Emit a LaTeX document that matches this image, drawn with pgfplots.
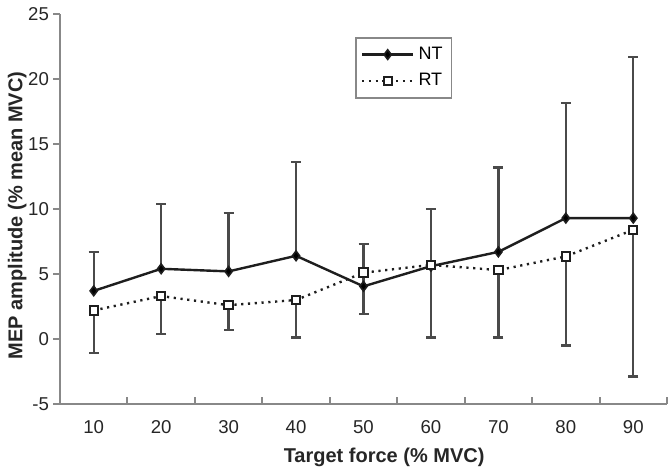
\documentclass[border=0pt]{standalone}
\usepackage{pgfplots}
\pgfplotsset{compat=1.18}
\usepackage{fontspec}
\setmainfont{Liberation Sans}
\definecolor{axgray}{HTML}{888888}
\definecolor{ebgray}{HTML}{4A4A4A}
\definecolor{ln}{HTML}{1E1E1E}
\begin{document}
\begin{tikzpicture}
\path[use as bounding box] (-30pt,-33pt) rectangle (304.5pt,202pt);
\begin{axis}[
  at={(0,0)}, anchor=south west,
  scale only axis, width=303.5pt, height=195pt,
  xmin=5, xmax=95, ymin=-5, ymax=25,
  axis x line*=bottom, axis y line*=left,
  axis line style={draw=axgray, line width=1.1pt},
  xtick={10,20,...,90},
  minor xtick={5,15,...,95},
  ytick={-5,0,...,25},
  tick align=inside,
  major tick length=3.5pt, minor tick length=3.5pt,
  every major x tick/.append style={draw=none},
  every minor x tick/.append style={draw=axgray, line width=1pt},
  every major y tick/.append style={xshift=-3.5pt, draw=axgray, line width=1pt},
  /pgf/number format/assume math mode=true,
  ticklabel style={font=\fontsize{9.3}{11}\selectfont, text=black!85},
  yticklabel style={xshift=-2pt},
  xticklabel style={yshift=-4.5pt},
  every axis y label/.style={at={(axis description cs:-0.0705,0.483)}, rotate=90, anchor=center},
  every axis x label/.style={at={(axis description cs:0.534,-0.137)}, anchor=center},
  label style={font=\bfseries\fontsize{10}{12}\selectfont, text=black!85},
  xlabel={Target force (\% MVC)},
  ylabel={MEP amplitude (\% mean MVC)},
  legend style={at={(0.486,0.941)}, anchor=north west, draw=axgray, line width=0.9pt,
    font=\fontsize{9}{10}\selectfont, inner sep=2.5pt, row sep=1.5pt},
  legend cell align=left,
  legend image code/.code={\draw[mark repeat=2,mark phase=2,#1] plot coordinates {(0cm,0cm) (0.45cm,0cm) (0.9cm,0cm)};},
  clip=false,
]
\addplot[color=ln, line width=1.2pt, mark=diamond*, mark size=2.4pt,
  mark options={solid, fill=black, line width=0.8pt},
  error bars/.cd, y dir=plus, y explicit,
  error bar style={draw=ebgray, line width=1.2pt, solid},
  error mark options={rotate=90, mark size=2.5pt, draw=ebgray, line width=1.2pt}]
coordinates {
 (10,3.7) +- (0,3.0)
 (20,5.4) +- (0,5.0)
 (30,5.2) +- (0,4.5)
 (40,6.4) +- (0,7.2)
 (50,4.05) +- (0,3.25)
 (60,5.6) +- (0,4.4)
 (70,6.7) +- (0,6.5)
 (80,9.3) +- (0,8.85)
 (90,9.3) +- (0,12.4)
};
\addlegendentry{NT}
\addplot[color=ln, line width=1.2pt, dash pattern=on 1.1pt off 2.3pt, mark=square*, mark size=2.1pt,
  mark options={solid, fill=white, draw=ln, line width=1pt},
  error bars/.cd, y dir=minus, y explicit,
  error bar style={draw=ebgray, line width=1.2pt, solid},
  error mark options={rotate=90, mark size=2.5pt, draw=ebgray, line width=1.2pt}]
coordinates {
 (10,2.2) +- (0,3.3)
 (20,3.3) +- (0,2.9)
 (30,2.6) +- (0,1.9)
 (40,3.0) +- (0,2.9)
 (50,5.1) +- (0,3.2)
 (60,5.7) +- (0,5.6)
 (70,5.3) +- (0,5.2)
 (80,6.35) +- (0,6.85)
 (90,8.4) +- (0,11.3)
};
\addlegendentry{RT}
\end{axis}
\end{tikzpicture}
\end{document}
